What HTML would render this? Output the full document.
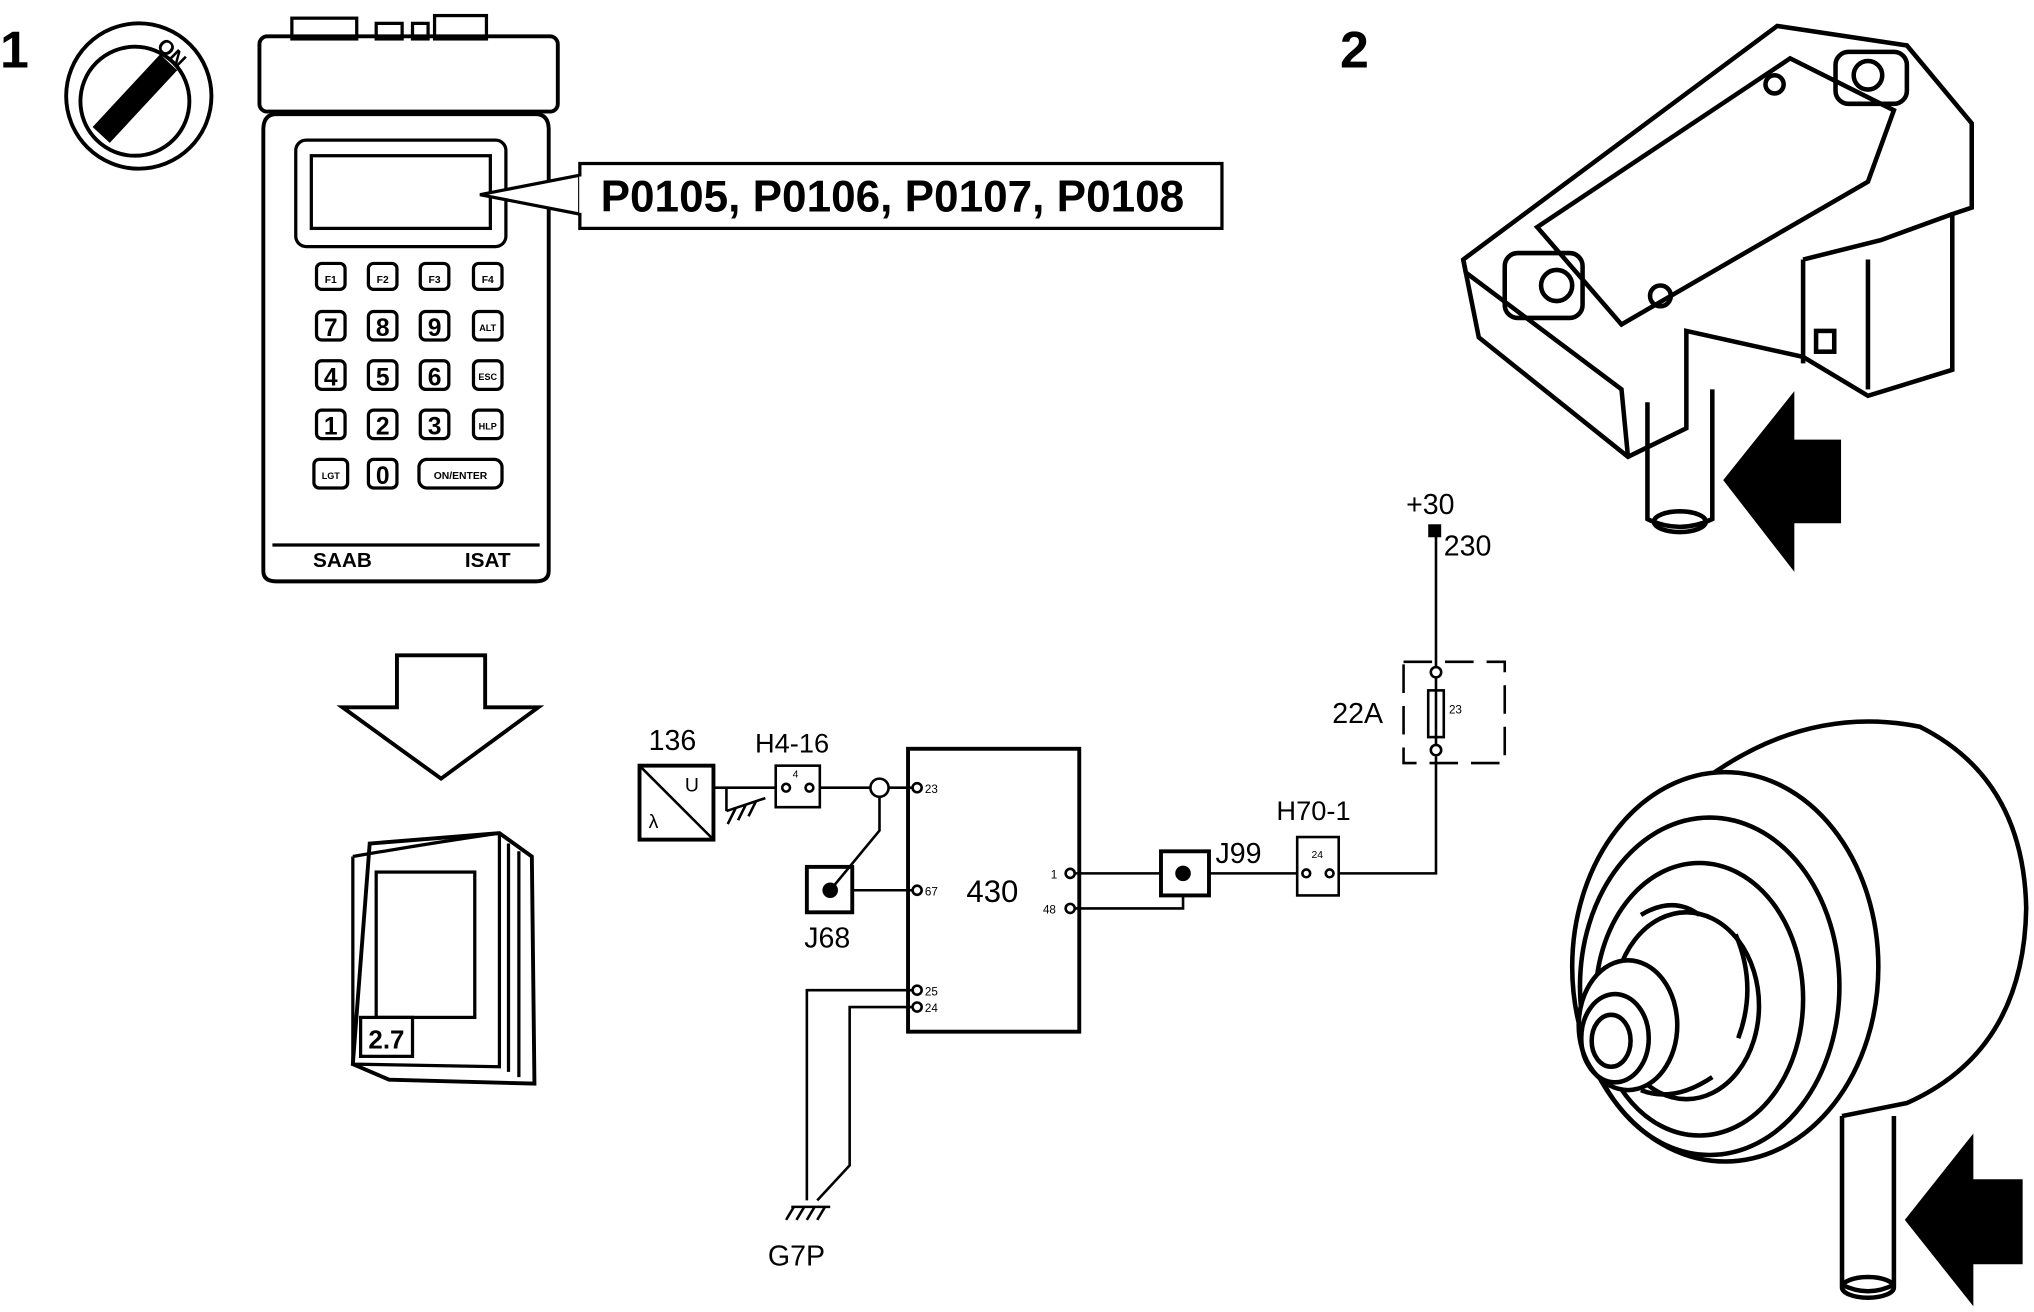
<!DOCTYPE html>
<html><head><meta charset="utf-8"><style>
html,body{margin:0;padding:0;background:#fff;}
svg{display:block;}
text{font-family:"Liberation Sans",sans-serif;fill:#000;}
</style></head><body>
<svg width="2034" height="1312" viewBox="0 0 1568 1011" preserveAspectRatio="none" xmlns="http://www.w3.org/2000/svg">
<rect width="1568" height="1011" fill="#fff"/>
<g stroke="#000" fill="none" stroke-width="2.5">
<text x="0" y="52" font-size="40" font-weight="bold" stroke="none">1</text>
<circle cx="107" cy="74" r="56" stroke-width="3"/>
<circle cx="104" cy="78" r="42" stroke-width="3"/>
<line x1="78" y1="104" x2="130" y2="48" stroke-width="18"/>
<text x="0" y="0" font-size="16" font-weight="bold" stroke="none" transform="translate(120 36) rotate(45)">ON</text>

<rect x="200" y="28" width="230" height="58" rx="6" stroke-width="3"/>
<rect x="225" y="14" width="50" height="16"/><rect x="290" y="18" width="20" height="12"/><rect x="318" y="18" width="12" height="12"/><rect x="335" y="12" width="40" height="18"/>
<path d="M213 88 H413 Q423 88 423 100 V440 Q423 448 413 448 H213 Q203 448 203 440 V100 Q203 88 213 88 Z" stroke-width="3"/>
<line x1="210" y1="420" x2="416" y2="420"/>
<rect x="228" y="108" width="162" height="82" rx="8"/>
<rect x="240" y="120" width="138" height="56"/>
<g stroke-width="2.5">
<rect x="244" y="203" width="22" height="20" rx="4"/><rect x="284" y="203" width="22" height="20" rx="4"/><rect x="324" y="203" width="22" height="20" rx="4"/><rect x="365" y="203" width="22" height="20" rx="4"/>
<rect x="244" y="240" width="22" height="22" rx="4"/><rect x="284" y="240" width="22" height="22" rx="4"/><rect x="324" y="240" width="22" height="22" rx="4"/><rect x="365" y="240" width="22" height="22" rx="4"/>
<rect x="244" y="278" width="22" height="22" rx="4"/><rect x="284" y="278" width="22" height="22" rx="4"/><rect x="324" y="278" width="22" height="22" rx="4"/><rect x="365" y="278" width="22" height="22" rx="4"/>
<rect x="244" y="316" width="22" height="22" rx="4"/><rect x="284" y="316" width="22" height="22" rx="4"/><rect x="324" y="316" width="22" height="22" rx="4"/><rect x="365" y="316" width="22" height="22" rx="4"/>
<rect x="242" y="354" width="26" height="22" rx="4"/><rect x="284" y="354" width="22" height="22" rx="4"/><rect x="323" y="354" width="64" height="22" rx="6"/>
</g>
<g stroke="none" font-weight="bold" text-anchor="middle">
<text x="255" y="218" font-size="8">F1</text><text x="295" y="218" font-size="8">F2</text><text x="335" y="218" font-size="8">F3</text><text x="376" y="218" font-size="8">F4</text>
<text x="255" y="259" font-size="19">7</text><text x="295" y="259" font-size="19">8</text><text x="335" y="259" font-size="19">9</text><text x="376" y="255" font-size="7">ALT</text>
<text x="255" y="297" font-size="19">4</text><text x="295" y="297" font-size="19">5</text><text x="335" y="297" font-size="19">6</text><text x="376" y="293" font-size="7">ESC</text>
<text x="255" y="335" font-size="19">1</text><text x="295" y="335" font-size="19">2</text><text x="335" y="335" font-size="19">3</text><text x="376" y="331" font-size="7">HLP</text>
<text x="255" y="369" font-size="7">LGT</text><text x="295" y="373" font-size="19">0</text><text x="355" y="369" font-size="8">ON/ENTER</text>
<text x="264" y="437" font-size="16">SAAB</text><text x="376" y="437" font-size="16">ISAT</text>
</g>
<polygon points="370,150 447,135 447,165" fill="#fff"/>
<rect x="447" y="126" width="495" height="50" fill="#fff"/>
<line x1="448" y1="136" x2="448" y2="164" stroke="#fff" stroke-width="3"/>
<text x="463" y="163" font-size="34" font-weight="bold" stroke="none">P0105, P0106, P0107, P0108</text>

<polygon points="306,505 374,505 374,545 415,545 340,600 264,545 306,545" stroke-width="3"/>
<path d="M285 650 L385 642 L410 660 L412 835 L300 832 L272 820 Z" stroke-width="3"/>
<path d="M272 660 Q330 650 385 642 M272 660 V820 L385 822 V642"/>
<path d="M392 650 V826 M400 656 V830"/>
<rect x="290" y="672" width="76" height="112"/>
<rect x="278" y="784" width="40" height="30" fill="#fff"/>
<text x="284" y="808" font-size="20" font-weight="bold" stroke="none">2.7</text>

<g stroke-width="2">
<text x="500" y="578" font-size="22" stroke="none">136</text>
<rect x="493" y="590" width="57" height="57" stroke-width="3"/>
<line x1="493" y1="590" x2="550" y2="647"/>
<text x="528" y="610" font-size="15" font-family="Liberation Serif" stroke="none">U</text>
<text x="500" y="638" font-size="15" font-family="Liberation Serif" stroke="none">λ</text>
<line x1="550" y1="607" x2="598" y2="607"/>
<line x1="560" y1="607" x2="560" y2="625"/><line x1="560" y1="625" x2="590" y2="615"/>
<path d="M567 623 l-6 12 M575 620 l-6 12 M583 617 l-6 12"/>
<text x="582" y="580" font-size="21" stroke="none">H4-16</text>
<rect x="598" y="590" width="34" height="32"/>
<text x="611" y="599" font-size="8" stroke="none">4</text>
<circle cx="606" cy="607" r="3"/><circle cx="624" cy="607" r="3"/>
<line x1="632" y1="607" x2="671" y2="607"/><line x1="685" y1="607" x2="703" y2="607"/>
<circle cx="678" cy="607" r="7"/>
<path d="M678 614 V640 L640 686"/>
<rect x="622" y="668" width="35" height="35" stroke-width="3"/>
<circle cx="640" cy="686" r="5" fill="#000"/>
<text x="620" y="730" font-size="22" stroke="none">J68</text>
<line x1="657" y1="686" x2="703" y2="686"/>
<rect x="700" y="577" width="132" height="218" stroke-width="3"/>
<text x="745" y="695" font-size="24" stroke="none">430</text>
<circle cx="707" cy="607" r="3.5"/><text x="713" y="611" font-size="9" stroke="none">23</text>
<circle cx="707" cy="686" r="3.5"/><text x="713" y="690" font-size="9" stroke="none">67</text>
<circle cx="707" cy="763" r="3.5"/><text x="713" y="767" font-size="9" stroke="none">25</text>
<circle cx="707" cy="776" r="3.5"/><text x="713" y="780" font-size="9" stroke="none">24</text>
<circle cx="825" cy="673" r="3.5"/><text x="810" y="677" font-size="9" stroke="none">1</text>
<circle cx="825" cy="700" r="3.5"/><text x="804" y="704" font-size="9" stroke="none">48</text>
<path d="M703 763 H622 V925 M703 776 H655 V898 L630 925"/>
<path d="M610 930 H640 M612 930 l-6 10 M620 930 l-6 10 M628 930 l-6 10 M636 930 l-6 10"/>
<text x="592" y="975" font-size="22" stroke="none">G7P</text>
<path d="M829 673 H895 M829 700 H912 V690"/>
<rect x="895" y="656" width="37" height="34" stroke-width="3"/>
<circle cx="912" cy="673" r="5" fill="#000"/>
<text x="937" y="665" font-size="22" stroke="none">J99</text>
<line x1="932" y1="673" x2="1000" y2="673"/>
<text x="984" y="632" font-size="21" stroke="none">H70-1</text>
<rect x="1000" y="645" width="32" height="45"/>
<text x="1011" y="661" font-size="8" stroke="none">24</text>
<circle cx="1007" cy="673" r="3"/><circle cx="1025" cy="673" r="3"/>
<path d="M1032 673 H1107 V583"/>
<rect x="1082" y="510" width="78" height="78" stroke-dasharray="22 10"/>
<circle cx="1107" cy="518" r="4"/><circle cx="1107" cy="578" r="4"/>
<rect x="1101" y="532" width="12" height="36"/>
<line x1="1107" y1="522" x2="1107" y2="574"/>
<text x="1117" y="550" font-size="9" stroke="none">23</text>
<text x="1027" y="557" font-size="22" stroke="none">22A</text>
<line x1="1107" y1="514" x2="1107" y2="412"/>
<rect x="1102" y="405" width="8" height="8" fill="#000"/>
<text x="1084" y="396" font-size="22" stroke="none">+30</text>
<text x="1113" y="428" font-size="22" stroke="none">230</text>
</g>

<text x="1033" y="52" font-size="40" font-weight="bold" stroke="none">2</text>
<g stroke-width="3.5">
<path d="M1128 200 L1370 20 L1470 35 L1520 95 L1520 160 L1505 165 L1505 285 L1440 305 L1390 275 L1300 255 L1300 330 L1255 352 L1140 260 Z"/>
<path d="M1185 175 L1380 45 L1460 85 L1440 140 L1250 250 Z"/>
<path d="M1128 200 L1130 210 L1250 300 L1255 352"/>
<path d="M1390 200 L1450 185 L1505 165 M1390 200 L1390 280 M1440 200 L1440 300"/>
<rect x="1160" y="195" width="60" height="50" rx="10"/>
<circle cx="1200" cy="220" r="12"/>
<rect x="1415" y="40" width="55" height="40" rx="10"/>
<circle cx="1440" cy="58" r="11"/>
<circle cx="1280" cy="228" r="8"/><circle cx="1368" cy="65" r="7"/>
<path d="M1270 310 V400 Q1295 412 1320 400 V300"/>
<ellipse cx="1295" cy="402" rx="20" ry="8"/>
<rect x="1400" y="255" width="14" height="16"/>
</g>
<polygon points="1330,370 1382,305 1382,340 1418,340 1418,402 1382,402 1382,437" fill="#000"/>
<g stroke-width="3.5">
<path d="M1290 620 Q1380 540 1480 560 Q1560 600 1562 700 Q1560 810 1470 850 L1420 860"/>
<ellipse cx="1330" cy="745" rx="118" ry="150" fill="#fff"/>
<ellipse cx="1318" cy="760" rx="100" ry="130"/>
<ellipse cx="1310" cy="770" rx="80" ry="105"/>
<ellipse cx="1300" cy="775" rx="56" ry="72"/>
<path d="M1265 705 Q1290 690 1310 705 M1338 720 Q1355 760 1340 800 M1320 830 Q1290 850 1265 840"/>
<ellipse cx="1255" cy="790" rx="38" ry="50" fill="#fff"/>
<ellipse cx="1245" cy="800" rx="26" ry="34"/>
<ellipse cx="1242" cy="802" rx="15" ry="20"/>
<path d="M1420 860 V990 Q1440 1000 1460 990 V860"/>
<ellipse cx="1440" cy="992" rx="20" ry="8"/>
</g>
<polygon points="1470,940 1520,877 1520,910 1558,910 1558,973 1520,973 1520,1003" fill="#000"/>
</g>
</svg>
</body></html>
